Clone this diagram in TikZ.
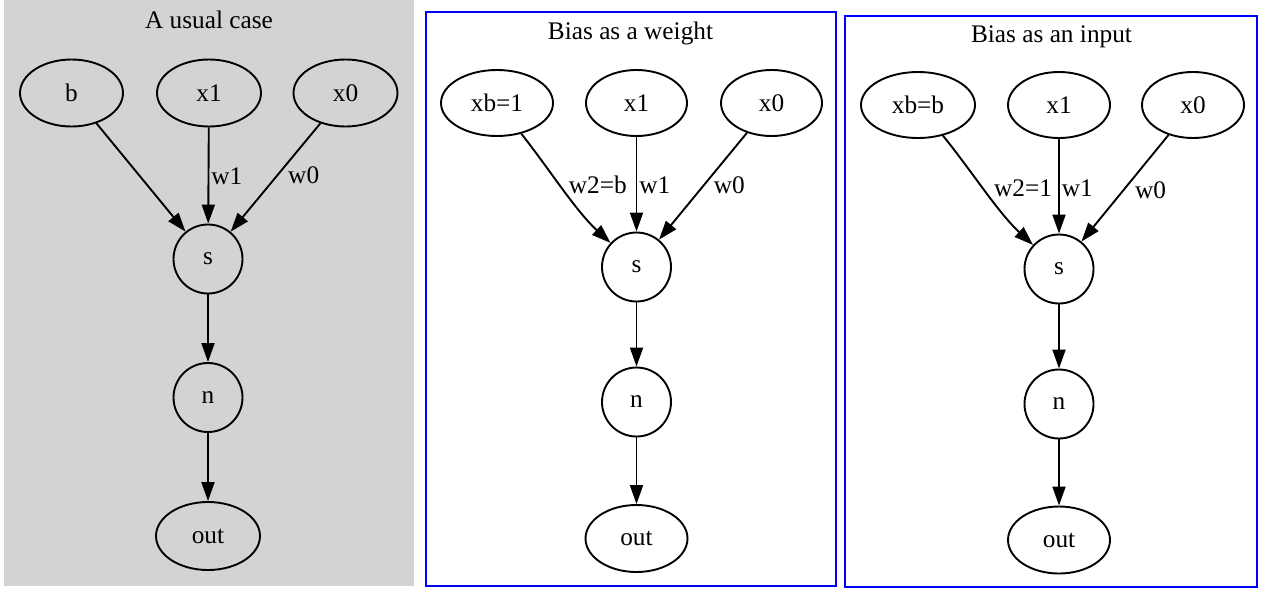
\documentclass[tikz,border=0pt]{standalone}
\usepackage{fontspec}
\setmainfont{Liberation Serif}
\usetikzlibrary{shapes.geometric,arrows.meta}
\definecolor{panelgray}{RGB}{211,211,211}
\tikzset{
  base/.style={font=\fontsize{25.3}{30}\selectfont},
  ell/.style={base, draw, line width=1.9pt, ellipse, inner sep=0pt, minimum height=67pt},
  circ/.style={base, draw, line width=1.9pt, circle, inner sep=0pt, minimum size=69pt},
  edge/.style={line width=1.9pt, -{Triangle[length=19pt,width=13pt]}},
  lbl/.style={base, inner sep=0pt, anchor=west},
  ttl/.style={base, inner sep=0pt},
  frame/.style={draw=blue, line width=2pt}
}
\begin{document}
\begin{tikzpicture}[x=1pt,y=-1pt]
\useasboundingbox (0,0) rectangle (1265,589);
% Panel 1
\fill[panelgray] (4,0) rectangle (414,586);
\node[ttl] (t1) at (209,20) {A usual case};
\node[ell, minimum width=103pt] (b1) at (71.5,93) {b};
\node[ell, minimum width=104pt] (x11) at (209,93) {x1};
\node[ell, minimum width=104pt] (x01) at (345.5,93) {x0};
\node[circ] (s1) at (208,259) {s};
\node[circ] (n1) at (208,397.5) {n};
\node[ell, minimum width=104pt, minimum height=68pt] (o1) at (208,536) {out};
\draw[edge] (b1) -- (s1);
\draw[edge] (x11) -- (s1) node[lbl, pos=0.51, xshift=2pt] {w1};
\draw[edge] (x01) -- (s1) node[lbl, pos=0.48, xshift=10pt] {w0};
\draw[edge] (s1) -- (n1);
\draw[edge] (n1) -- (o1);
% Panel 2
\draw[frame] (426,12) rectangle (836,586);
\node[ttl] (t2) at (630.5,33) {Bias as a weight};
\node[ell, minimum width=112pt, minimum height=66pt] (xb2) at (497,103) {xb=1};
\node[ell, minimum width=101pt, minimum height=66pt] (x12) at (636.5,103) {x1};
\node[ell, minimum width=101pt, minimum height=66pt] (x02) at (771.5,103) {x0};
\node[circ] (s2) at (636.5,267) {s};
\node[circ] (n2) at (636.5,402) {n};
\node[ell, minimum width=102pt, minimum height=67pt] (o2) at (636.5,538.5) {out};
\draw[edge] (xb2) .. controls (550,170) and (575,210) .. (s2) node[lbl, pos=0.46, xshift=8pt] {w2=b};
\draw[edge] (x12) -- (s2) node[lbl, pos=0.51, xshift=2pt] {w1};
\draw[edge] (x02) -- (s2) node[lbl, pos=0.49, xshift=9pt] {w0};
\draw[edge] (s2) -- (n2);
\draw[edge] (n2) -- (o2);
% Panel 3
\draw[frame] (845,16) rectangle (1257,587);
\node[ttl] (t3) at (1051.5,37) {Bias as an input};
\node[ell, minimum width=114pt, minimum height=66pt] (xb3) at (918,105) {xb=b};
\node[ell, minimum width=102pt, minimum height=66pt] (x13) at (1059,105) {x1};
\node[ell, minimum width=102pt, minimum height=66pt] (x03) at (1193,105) {x0};
\node[circ] (s3) at (1059,269) {s};
\node[circ] (n3) at (1059,404) {n};
\node[ell, minimum width=102pt, minimum height=67pt] (o3) at (1059,540) {out};
\draw[edge] (xb3) .. controls (972.5,172) and (997.5,212) .. (s3) node[lbl, pos=0.47, xshift=10pt] {w2=1};
\draw[edge] (x13) -- (s3) node[lbl, pos=0.52, xshift=2pt] {w1};
\draw[edge] (x03) -- (s3) node[lbl, pos=0.52, xshift=11pt] {w0};
\draw[edge] (s3) -- (n3);
\draw[edge] (n3) -- (o3);
\end{tikzpicture}
\end{document}
